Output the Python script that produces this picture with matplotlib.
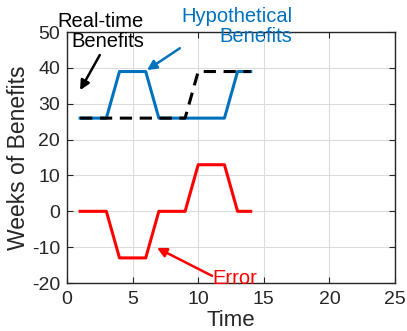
import matplotlib
matplotlib.use("Agg")
import matplotlib.pyplot as plt

plt.rcParams['font.family'] = ['Liberation Sans', 'DejaVu Sans']
plt.rcParams['axes.unicode_minus'] = False

# data
time = [1, 2, 3, 4, 5, 6, 7, 8, 9, 10, 11, 12, 13, 14]
hypothetical = [26, 26, 26, 39, 39, 39, 26, 26, 26, 26, 26, 26, 39, 39]
realtime = [26, 26, 26, 26, 26, 26, 26, 26, 26, 39, 39, 39, 39, 39]
error = [r - h for r, h in zip(realtime, hypothetical)]

xticks = [0, 5, 10, 15, 20, 25]
yticks = [-20, -10, 0, 10, 20, 30, 40, 50]

blue = '#0072BD'
axcol = '#262626'

fig = plt.figure(figsize=(4.07, 3.31), dpi=100)
ax = fig.add_axes([0.1646, 0.145, 0.806, 0.758])

ax.plot(time, hypothetical, color=blue, lw=2.2)
ax.plot(time, realtime, color='black', lw=2.2, linestyle=(0, (4, 2.5)))
ax.plot(time, error, color='red', lw=2.2)

ax.set_xlim(0, 25)
ax.set_ylim(-20, 50)
ax.set_xticks(xticks)
ax.set_yticks(yticks)
ax.grid(True, color='#dcdcdc', lw=0.8)
ax.set_axisbelow(True)
ax.tick_params(direction='in', top=True, right=True, labelsize=14,
               colors=axcol, length=4, width=0.8)
ax.tick_params(axis='x', pad=6)
ax.tick_params(axis='y', pad=5)
for s in ax.spines.values():
    s.set_color(axcol)
    s.set_linewidth(1.0)
ax.set_xlabel('Time', fontsize=16, color=axcol, labelpad=1)
ax.set_ylabel('Weeks of Benefits', fontsize=16.5, color=axcol, labelpad=1)

arrow = dict(arrowstyle='-|>', lw=1.8, mutation_scale=14, shrinkA=0, shrinkB=0)

# real-time label and arrow
ax.annotate('', xy=(1.0, 33.8), xytext=(2.5, 43.6),
            arrowprops=dict(arrow, color='black'), annotation_clip=False)
ax.text(5.87, 44.6, 'Real-time\nBenefits', ha='right', va='bottom',
        fontsize=14.5, color='black', linespacing=1.1, clip_on=False)

# hypothetical label and arrow
ax.annotate('', xy=(6.1, 39.4), xytext=(8.6, 45.5),
            arrowprops=dict(arrow, color=blue), annotation_clip=False)
ax.text(17.2, 46.0, 'Hypothetical\nBenefits', ha='right', va='bottom',
        fontsize=14.5, color=blue, linespacing=1.1, clip_on=False)

# error label and arrow
ax.annotate('', xy=(6.86, -10.2), xytext=(11.05, -18.0),
            arrowprops=dict(arrow, color='red'))
ax.text(11.05, -18.8, 'Error', ha='left', va='center',
        fontsize=14.5, color='red')

fig.savefig('out.png', dpi=100)
